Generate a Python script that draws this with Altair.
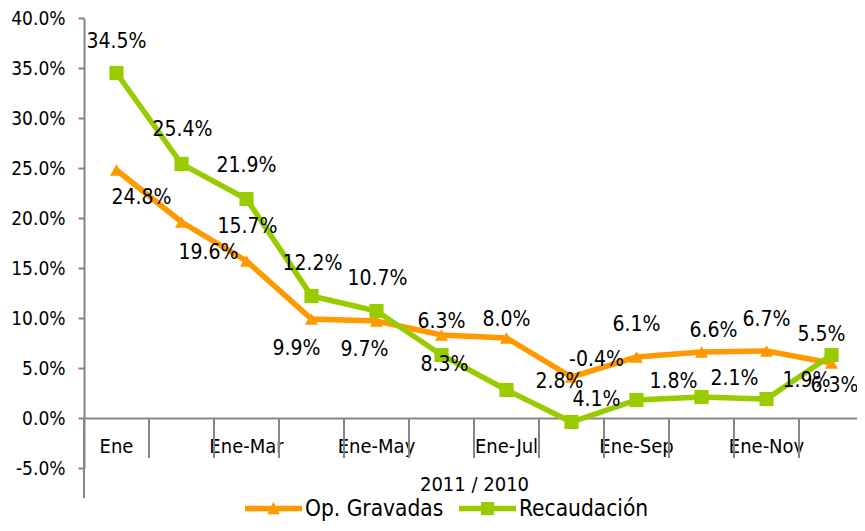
import altair as alt
import pandas as pd

# ---------------- data ----------------
categories = ["Ene", "Ene-Feb", "Ene-Mar", "Ene-Abr", "Ene-May", "Ene-Jun",
              "Ene-Jul", "Ene-Ago", "Ene-Sep", "Ene-Oct", "Ene-Nov", "Ene-Dic"]
op_gravadas = [24.8, 19.6, 15.7, 9.9, 9.7, 8.3, 8.0, 4.1, 6.1, 6.6, 6.7, 5.5]
recaudacion = [34.5, 25.4, 21.9, 12.2, 10.7, 6.3, 2.8, -0.4, 1.8, 2.1, 1.9, 6.3]
series_names = ["Op. Gravadas", "Recaudación"]
series_colors = ["#FF9900", "#99CC00"]
shown_labels = ["Ene", "Ene-Mar", "Ene-May", "Ene-Jul", "Ene-Sep", "Ene-Nov"]
y_ticks = [-5, 0, 5, 10, 15, 20, 25, 30, 35, 40]
axis_title = "2011 / 2010"

# manual data-label offsets in pixels (as placed in the original chart)
op_label_dx = [25, 27, 1, -15, -12, 3, 0, 25, 0, 12, 0, -10]
op_label_dy = [28, 31, -34, 30, 29, 30, -18, 23, -32, -21, -31, -28]
rec_label_dx = [0, 1, 0, 1, 1, 0, 53, 25, 37, 33, 40, 3]
rec_label_dy = [-31, -34, -33, -32, -32, -33, -8, -62, -18, -18, -18, 31]

# ---------------- style ----------------
W, H = 780, 450
Y_MIN, Y_MAX = -5, 40
PX_PER_UNIT = H / (Y_MAX - Y_MIN)
HALF_BAND = W / len(categories) / 2
FONT = "DejaVu Sans Condensed"
GRAY = "#868686"

rows = []
for name, vals, dxs, dys in [
    (series_names[0], op_gravadas, op_label_dx, op_label_dy),
    (series_names[1], recaudacion, rec_label_dx, rec_label_dy),
]:
    for c, v, dx, dy in zip(categories, vals, dxs, dys):
        rows.append({"series": name, "cat": c, "value": v,
                     "label": f"{v:.1f}%", "dx": dx + HALF_BAND,
                     "label_y": v - dy / PX_PER_UNIT})
df = pd.DataFrame(rows)

div_df = pd.DataFrame({"cat": categories, "top": 0.0,
                       "bot": [-8.0 if i == 0 else -4.0 for i in range(len(categories))]})
end_df = pd.DataFrame({"cat": [categories[-1]], "top": [0.0], "bot": [-8.0]})

x_scale = alt.Scale(type="band", domain=categories, paddingInner=0, paddingOuter=0)
y_scale = alt.Scale(domain=[Y_MIN, Y_MAX], nice=False, zero=False)
color_scale = alt.Scale(domain=series_names, range=series_colors)

shown_js = "[" + ",".join(f"'{s}'" for s in shown_labels) + "]"

x_axis = alt.Axis(orient="bottom", offset=-50, domainColor=GRAY, domainWidth=2,
                  ticks=False, labelAngle=0, labelFont=FONT, labelFontSize=20,
                  labelColor="black", labelPadding=18,
                  labelExpr=f"indexof({shown_js}, datum.value) >= 0 ? datum.value : ''",
                  title=axis_title, titleFont=FONT, titleFontSize=20,
                  titleFontWeight="normal", titleColor="black", titlePadding=18)
y_axis = alt.Axis(orient="left", values=y_ticks, grid=False, domainColor=GRAY, domainWidth=2,
                  tickColor=GRAY, tickWidth=2, tickSize=6, labelFont=FONT,
                  labelFontSize=19, labelColor="black", labelPadding=13,
                  labelExpr="(datum.value < 0 ? '-' : '') + format(abs(datum.value), '.1f') + '%'",
                  title=None)


def X(**kw):
    return alt.X("cat:N", sort=categories, scale=x_scale, axis=x_axis, **kw)


def Y(field):
    return alt.Y(f"{field}:Q", scale=y_scale, axis=y_axis)


base = alt.Chart(df)

dividers = alt.Chart(div_df).mark_rule(color=GRAY, strokeWidth=2).encode(
    x=X(bandPosition=0), y=Y("top"), y2="bot:Q",
)
end_divider = alt.Chart(end_df).mark_rule(color=GRAY, strokeWidth=2).encode(
    x=X(bandPosition=1), y=Y("top"), y2="bot:Q",
)


def series_layers(i, shape, size):
    name = series_names[i]
    sub = base.transform_filter(alt.datum.series == name)
    line = sub.mark_line(color=series_colors[i], strokeWidth=5.5).encode(
        x=X(), y=Y("value"),
    )
    pts = sub.mark_point(shape=shape, filled=True, opacity=1, size=size,
                         color=series_colors[i]).encode(
        x=X(), y=Y("value"),
    )
    return [line, pts]


labels = base.mark_text(font=FONT, fontSize=21, color="black",
                        align="center", baseline="middle").encode(
    x=X(), y=Y("label_y"),
    xOffset=alt.XOffset("dx:Q", scale=None),
    text="label:N",
)

legend_paths = [
    "M-1,-0.1H1V0.1H-1Z M-0.22,0.2L0,-0.24L0.22,0.2Z",
    "M-1,-0.1H1V0.1H-1Z M-0.23,-0.23H0.23V0.23H-0.23Z",
]
leg = alt.Legend(title=None, orient="none", legendX=161, legendY=462,
                 direction="horizontal", symbolSize=3249, symbolStrokeWidth=0,
                 symbolOpacity=1, labelFont=FONT, labelFontSize=22.5,
                 labelColor="black", padding=0, columnPadding=15, labelOffset=3,
                 labelLimit=0)
legend_layer = base.transform_filter("false").mark_point(filled=True, opacity=1).encode(
    x=X(), y=Y("value"),
    color=alt.Color("series:N", scale=color_scale, legend=leg),
    shape=alt.Shape("series:N", scale=alt.Scale(domain=series_names, range=legend_paths),
                    legend=leg),
)

chart = alt.layer(
    dividers, end_divider,
    *series_layers(0, "triangle-up", 170),
    *series_layers(1, "square", 200),
    labels, legend_layer,
).properties(
    width=W, height=H,
    autosize=alt.AutoSizeParams(type="none"),
    padding={"left": 76, "top": 10, "right": -7, "bottom": 55},
    background="white",
).configure_view(stroke=None)

chart.save("out.html", embed_options={"renderer": "svg", "actions": False})
